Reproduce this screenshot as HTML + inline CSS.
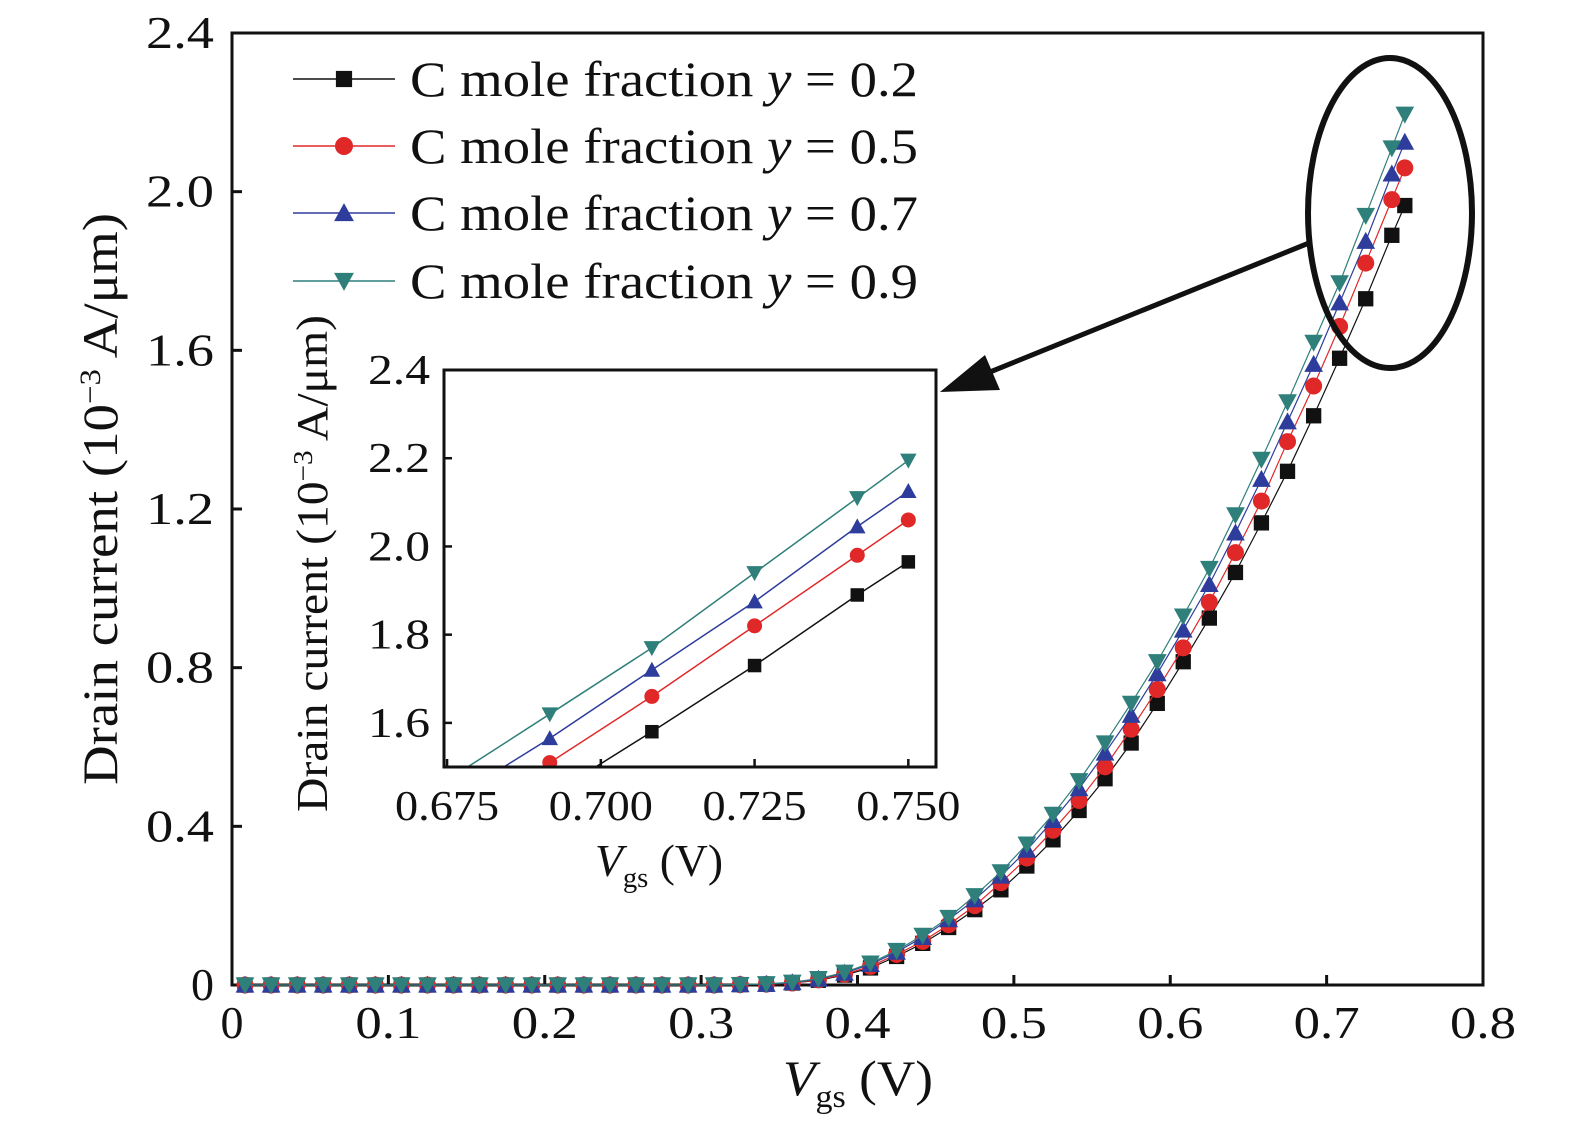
<!DOCTYPE html>
<html><head><meta charset="utf-8"><style>
html,body{margin:0;padding:0;background:#fff;overflow:hidden;width:1575px;height:1132px;position:relative;}
svg{display:block;position:absolute;left:0;top:0;overflow:hidden;}
svg text{font-family:"Liberation Serif",serif;fill:#111;}
</style></head><body>
<svg id="chart" width="1575" height="1132" viewBox="0 0 1575 1132" xmlns="http://www.w3.org/2000/svg">
<g id="main"></g>
</svg>
<script>
const vgs=[0.0083,0.025,0.0417,0.0583,0.075,0.0917,0.1083,0.125,0.1417,0.1583,0.175,0.1917,0.2083,0.225,0.2417,0.2583,0.275,0.2917,0.3083,0.325,0.3417,0.3583,0.375,0.3917,0.4083,0.425,0.4417,0.4583,0.475,0.4917,0.5083,0.525,0.5417,0.5583,0.575,0.5917,0.6083,0.625,0.6417,0.6583,0.675,0.6917,0.7083,0.725,0.7417,0.75];
const lowZeros=[0,0,0,0,0,0,0,0,0,0,0,0,0,0,0,0,0,0,0,0.001];
const y02=lowZeros.concat([0.002,0.005,0.012,0.025,0.043,0.072,0.105,0.145,0.19,0.24,0.30,0.366,0.44,0.52,0.61,0.71,0.815,0.925,1.04,1.165,1.295,1.435,1.58,1.73,1.89,1.965]);
const y05=lowZeros.concat([0.002,0.005,0.013,0.027,0.047,0.077,0.11,0.152,0.2,0.258,0.32,0.39,0.465,0.55,0.645,0.745,0.85,0.965,1.09,1.22,1.37,1.51,1.66,1.82,1.98,2.06]);
const y07=lowZeros.concat([0.002,0.006,0.015,0.03,0.052,0.083,0.12,0.165,0.215,0.275,0.34,0.415,0.495,0.585,0.68,0.785,0.895,1.01,1.14,1.275,1.42,1.565,1.72,1.875,2.045,2.125]);
const y09=lowZeros.concat([0.003,0.007,0.016,0.032,0.055,0.087,0.125,0.17,0.225,0.285,0.355,0.43,0.515,0.61,0.71,0.815,0.93,1.05,1.185,1.325,1.47,1.62,1.77,1.94,2.11,2.195]);
const mainXTicks=[0,0.1,0.2,0.3,0.4,0.5,0.6,0.7,0.8];
const mainXLabels=["0","0.1","0.2","0.3","0.4","0.5","0.6","0.7","0.8"];
const mainYTicks=[0,0.4,0.8,1.2,1.6,2.0,2.4];
const mainYLabels=["0","0.4","0.8","1.2","1.6","2.0","2.4"];
const insetXTicks=[0.675,0.7,0.725,0.75];
const insetXLabels=["0.675","0.700","0.725","0.750"];
const insetYTicks=[1.6,1.8,2.0,2.2,2.4];
const insetYLabels=["1.6","1.8","2.0","2.2","2.4"];
const seriesNames=["y = 0.2","y = 0.5","y = 0.7","y = 0.9"];
const seriesData=[y02,y05,y07,y09];
const colors=["#111111","#e02828","#2e3d9c","#2f7f7a"];
const markers=["square","circle","up","down"];

const NS="http://www.w3.org/2000/svg";
const svg=document.getElementById('chart');
function mk(tag,attrs,parent){const e=document.createElementNS(NS,tag);for(const k in attrs)e.setAttribute(k,attrs[k]);(parent||svg).appendChild(e);return e;}
const M={x0:232,x1:1483,y0:985,y1:33,xmin:0,xmax:0.8,ymin:0,ymax:2.4};
const mx=v=>M.x0+(v-M.xmin)/(M.xmax-M.xmin)*(M.x1-M.x0);
const my=v=>M.y0-(v-M.ymin)/(M.ymax-M.ymin)*(M.y0-M.y1);
const I={x0:444,x1:936,y0:767,y1:370,xmin:0.6745,xmax:0.7545,ymin:1.5,ymax:2.4};
const ix=v=>I.x0+(v-I.xmin)/(I.xmax-I.xmin)*(I.x1-I.x0);
const iy=v=>I.y0-(v-I.ymin)/(I.ymax-I.ymin)*(I.y0-I.y1);
function fit(t,len){t.setAttribute('textLength',len);t.setAttribute('lengthAdjust','spacingAndGlyphs');}

function marker(g,type,x,y,s,col){
  let e;
  if(type==="square"){e=mk('rect',{x:x-s*0.45,y:y-s*0.45,width:s*0.9,height:s*0.9,fill:col},g);}
  else if(type==="circle"){e=mk('circle',{cx:x,cy:y,r:s*0.5,fill:col},g);}
  else if(type==="up"){e=mk('polygon',{points:`${x},${y-s*0.55} ${x-s*0.55},${y+s*0.45} ${x+s*0.55},${y+s*0.45}`,fill:col},g);}
  else {e=mk('polygon',{points:`${x},${y+s*0.55} ${x-s*0.55},${y-s*0.45} ${x+s*0.55},${y-s*0.45}`,fill:col},g);}
  return e;
}

const frame=mk('rect',{x:M.x0,y:M.y1,width:M.x1-M.x0,height:M.y0-M.y1,fill:'none',stroke:'#111','stroke-width':3});


mainXTicks.forEach((t,i)=>{
  const tk=mk('line',{x1:mx(t),x2:mx(t),y1:M.y0,y2:M.y0-10,stroke:'#111','stroke-width':3});
  
  
  const tl=mk('text',{x:mx(t),y:M.y0+53,'font-size':46,'text-anchor':'middle'});tl.textContent=mainXLabels[i];
  if(mainXLabels[i].length>1)fit(tl,66);
  
  
});
mainYTicks.forEach((t,i)=>{
  const tk=mk('line',{x1:M.x0,x2:M.x0+10,y1:my(t),y2:my(t),stroke:'#111','stroke-width':3});
  
  
  const tl=mk('text',{x:M.x0-18,y:my(t)+15,'font-size':46,'text-anchor':'end'});tl.textContent=mainYLabels[i];
  if(mainYLabels[i].length>1)fit(tl,68);
  
  
});
seriesData.forEach((d,s)=>{
  const g=mk('g',{});
  
  
  mk('polyline',{points:d.map((v,i)=>mx(vgs[i])+','+my(v)).join(' '),fill:'none',stroke:colors[s],'stroke-width':1.2},g);
  d.forEach((v,i)=>{const m=marker(g,markers[s],mx(vgs[i]),my(v),17,colors[s]);
    
    });
});
const xt=mk('text',{x:783,y:1095,'font-size':50});
xt.innerHTML='<tspan font-style="italic">V</tspan><tspan font-size="32" dy="12">gs</tspan><tspan dy="-12"> (V)</tspan>';
fit(xt,150);


const yt=mk('text',{transform:'translate(117,785) rotate(-90)','font-size':50});
yt.innerHTML='Drain current (10<tspan font-size="30" dy="-17">−3</tspan><tspan dy="17"> A/μm)</tspan>';
fit(yt,572);


const legY=[79,146,213,281];
seriesNames.forEach((n,s)=>{
  const g=mk('g',{});
  
  
  mk('line',{x1:293,x2:395,y1:legY[s],y2:legY[s],stroke:colors[s],'stroke-width':1.5},g);
  marker(g,markers[s],344,legY[s],18,colors[s]);
  const t=mk('text',{x:410,y:legY[s]+17,'font-size':50},g);
  t.innerHTML='C mole fraction <tspan font-style="italic">y</tspan> = '+n.split('= ')[1];
  fit(t,508);
});
const el=mk('ellipse',{cx:1390,cy:213,rx:82,ry:155,fill:'none',stroke:'#111','stroke-width':6});


const ig=mk('g',{});


mk('rect',{x:I.x0,y:I.y1,width:I.x1-I.x0,height:I.y0-I.y1,fill:'#fff'},ig);
const cp=mk('clipPath',{id:'ic'},ig);
mk('rect',{x:I.x0,y:I.y1,width:I.x1-I.x0,height:I.y0-I.y1},cp);
const ic=mk('g',{'clip-path':'url(#ic)'},ig);
seriesData.forEach((d,s)=>{
  const g=mk('g',{},ic);
  
  
  mk('polyline',{points:d.map((v,i)=>ix(vgs[i])+','+iy(v)).join(' '),fill:'none',stroke:colors[s],'stroke-width':1.5},g);
  d.forEach((v,i)=>{if(vgs[i]>0.66){const m=marker(g,markers[s],ix(vgs[i]),iy(v),15,colors[s]);
    
    }});
});
mk('rect',{x:I.x0,y:I.y1,width:I.x1-I.x0,height:I.y0-I.y1,fill:'none',stroke:'#111','stroke-width':3},ig);
insetXTicks.forEach((t,i)=>{
  mk('line',{x1:ix(t),x2:ix(t),y1:I.y0,y2:I.y0-8,stroke:'#111','stroke-width':2.5},ig);
  const tl=mk('text',{x:ix(t),y:I.y0+53,'font-size':42,'text-anchor':'middle'},ig);tl.textContent=insetXLabels[i];
  fit(tl,104);
  
  
});
insetYTicks.forEach((t,i)=>{
  mk('line',{x1:I.x0,x2:I.x0+8,y1:iy(t),y2:iy(t),stroke:'#111','stroke-width':2.5},ig);
  const tl=mk('text',{x:I.x0-14,y:iy(t)+14,'font-size':42,'text-anchor':'end'},ig);tl.textContent=insetYLabels[i];
  fit(tl,62);
  
  
});
const ixt=mk('text',{x:595,y:876,'font-size':46},ig);
ixt.innerHTML='<tspan font-style="italic">V</tspan><tspan font-size="29" dy="11">gs</tspan><tspan dy="-11"> (V)</tspan>';
fit(ixt,128);


const iyt=mk('text',{transform:'translate(327,812) rotate(-90)','font-size':44},ig);
iyt.innerHTML='Drain current (10<tspan font-size="27" dy="-15">−3</tspan><tspan dy="15"> A/μm)</tspan>';
fit(iyt,497);


const ag=mk('g',{});


mk('line',{x1:1309,x2:990,y1:243,y2:372,stroke:'#111','stroke-width':5},ag);
mk('polygon',{points:'940,392 985,355 1000,390',fill:'#111'},ag);
</script>
</body></html>
